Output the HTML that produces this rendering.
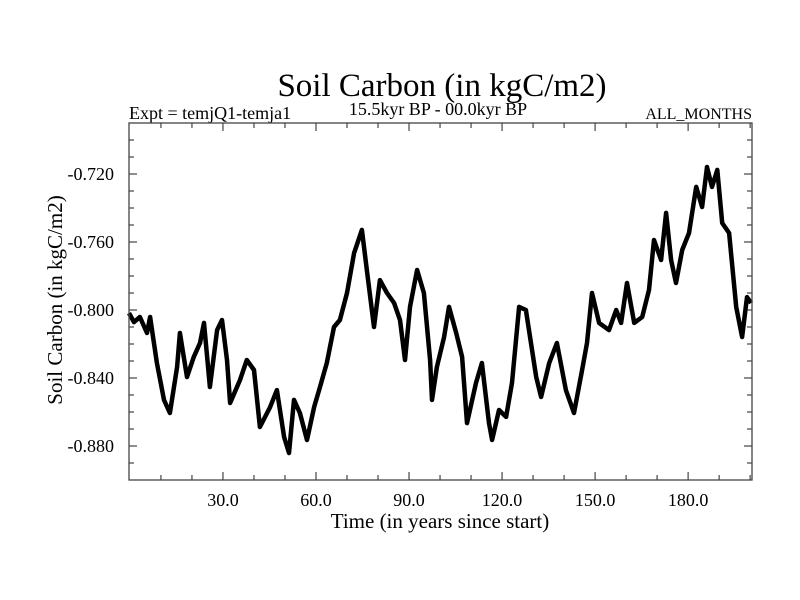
<!DOCTYPE html>
<html><head><meta charset="utf-8"><style>
html,body{margin:0;padding:0;background:#fff;}
svg{display:block;font-family:"Liberation Serif",serif;}
</style></head><body>
<svg id="chart" width="800" height="600" viewBox="0 0 800 600">
<rect x="0" y="0" width="800" height="600" fill="#fff"/>
<text x="442" y="96" font-size="33" text-anchor="middle">Soil Carbon (in kgC/m2)</text>
<text x="129" y="119" font-size="18">Expt = temjQ1-temja1</text>
<text x="438" y="115" font-size="18" text-anchor="middle">15.5kyr BP - 00.0kyr BP</text>
<text x="752" y="119" font-size="16" text-anchor="end">ALL_MONTHS</text>
<text transform="translate(62,300) rotate(-90)" font-size="21" text-anchor="middle">Soil Carbon (in kgC/m2)</text>
<text x="440" y="528" font-size="21" text-anchor="middle">Time (in years since start)</text>
<g id="axes"></g>
<g id="series"></g>
<rect x="129" y="123" width="623" height="357" fill="none" stroke="#444" stroke-width="1.3"/>
</svg>
<script>
const years = [-1.0,1.3,3.2,5.5,6.5,8.7,11.0,12.9,15.2,16.1,18.4,20.6,22.6,23.9,25.8,28.1,29.7,31.3,32.3,35.5,37.7,40.0,41.9,45.2,47.4,49.7,51.3,52.9,54.8,57.1,59.4,61.3,63.5,65.8,67.7,70.0,72.3,74.8,76.5,78.7,80.6,82.9,85.2,87.1,88.7,90.3,92.6,94.8,96.8,97.4,99.0,101.3,102.9,105.2,107.1,108.7,111.6,113.5,115.8,116.8,119.0,121.3,123.2,125.5,127.7,131.0,132.6,135.2,137.7,140.6,143.2,145.8,147.4,149.0,151.3,154.5,156.8,158.4,160.3,162.6,165.2,167.4,169.0,171.3,172.9,174.5,176.1,178.1,180.3,182.6,184.5,186.1,187.7,189.4,191.0,193.2,195.5,197.4,199.0,200.3];
const carbon = [-0.8018,-0.8071,-0.8041,-0.8135,-0.8041,-0.8312,-0.8529,-0.8606,-0.8335,-0.8135,-0.8394,-0.8276,-0.8194,-0.8076,-0.8453,-0.8118,-0.8059,-0.8294,-0.8547,-0.8412,-0.8294,-0.8353,-0.8688,-0.8571,-0.8471,-0.8747,-0.8841,-0.8529,-0.8606,-0.8765,-0.8571,-0.8453,-0.8312,-0.8100,-0.8059,-0.7900,-0.7665,-0.7529,-0.7782,-0.8100,-0.7824,-0.7900,-0.7959,-0.8059,-0.8294,-0.7982,-0.7765,-0.7900,-0.8294,-0.8529,-0.8335,-0.8159,-0.7982,-0.8135,-0.8276,-0.8665,-0.8429,-0.8312,-0.8665,-0.8765,-0.8588,-0.8629,-0.8429,-0.7982,-0.8000,-0.8394,-0.8512,-0.8312,-0.8194,-0.8471,-0.8606,-0.8353,-0.8194,-0.7900,-0.8076,-0.8118,-0.8000,-0.8076,-0.7841,-0.8076,-0.8041,-0.7882,-0.7588,-0.7706,-0.7429,-0.7706,-0.7841,-0.7647,-0.7547,-0.7276,-0.7394,-0.7159,-0.7276,-0.7176,-0.7488,-0.7547,-0.7982,-0.8159,-0.7924,-0.7959];
const xTickValues = [30,60,90,120,150,180];
const xTickLabels = ["30.0","60.0","90.0","120.0","150.0","180.0"];
const yTickValues = [-0.72,-0.76,-0.80,-0.84,-0.88];
const yTickLabels = ["-0.720","-0.760","-0.800","-0.840","-0.880"];

const L=129,R=752,T=123,B=480;
const X0=-0.3,X1=200.6,Y0=-0.9,Y1=-0.69;
function xs(v){return L+(v-X0)/(X1-X0)*(R-L);}
function ys(v){return B-(v-Y0)/(Y1-Y0)*(B-T);}
const NS="http://www.w3.org/2000/svg";
const axes=document.getElementById('axes');
function ln(x1,y1,x2,y2,name){
  const l=document.createElementNS(NS,'line');
  l.setAttribute('x1',x1);l.setAttribute('y1',y1);l.setAttribute('x2',x2);l.setAttribute('y2',y2);
  l.setAttribute('stroke','#444');l.setAttribute('stroke-width','1.2');
  
  
  axes.appendChild(l);
}
for(let v=10;v<=200;v+=10){
  const x=xs(v), len=(v%30===0)?8:5;
  ln(x,B,x,B-len,'x-tick');
  ln(x,T,x,T+len,'x-tick-top');
}
for(let i=0;i<=20;i++){
  const v=-0.9+i*0.01; const y=ys(v);
  if(y<T+1||y>B-1) continue;
  const major=Math.abs(((v+0.72)/0.04)-Math.round((v+0.72)/0.04))<1e-6;
  const len=major?8:5;
  ln(L,y,L+len,y,'y-tick');
  ln(R,y,R-len,y,'y-tick-right');
}
xTickValues.forEach((v,i)=>{
  const t=document.createElementNS(NS,'text');
  t.setAttribute('x',xs(v));t.setAttribute('y',506);
  t.setAttribute('font-size','18');t.setAttribute('text-anchor','middle');
  t.textContent=xTickLabels[i];
  
  
  axes.appendChild(t);
});
yTickValues.forEach((v,i)=>{
  const t=document.createElementNS(NS,'text');
  t.setAttribute('x',114);t.setAttribute('y',ys(v)+6);
  t.setAttribute('font-size','18');t.setAttribute('text-anchor','end');
  t.textContent=yTickLabels[i];
  
  
  axes.appendChild(t);
});
const pts=years.map((yr,i)=>xs(Math.max(X0,Math.min(X1,yr))).toFixed(1)+','+ys(carbon[i]).toFixed(1)).join(' ');
const pl=document.createElementNS(NS,'polyline');
pl.setAttribute('points',pts);
pl.setAttribute('fill','none');pl.setAttribute('stroke','#000');
pl.setAttribute('stroke-width','4.5');pl.setAttribute('stroke-linejoin','round');


document.getElementById('series').appendChild(pl);
</script>
</body></html>
